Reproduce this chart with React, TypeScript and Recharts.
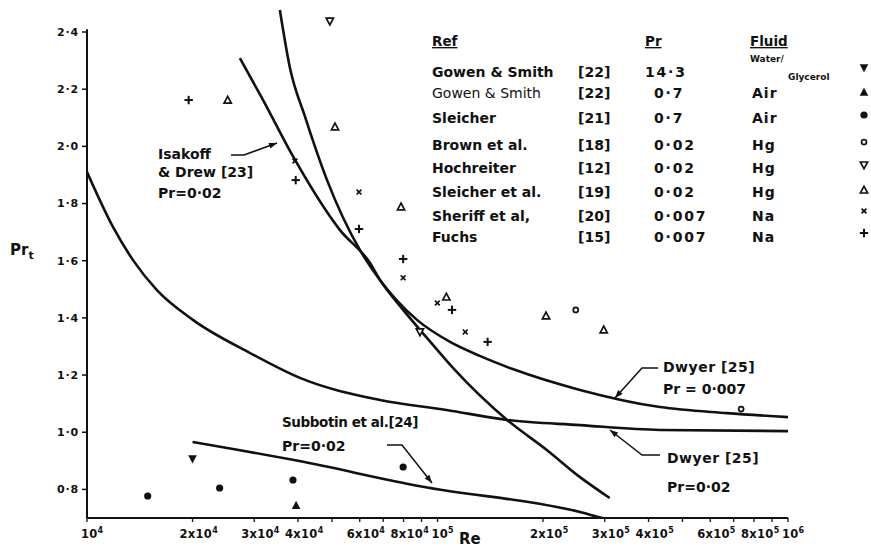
import React from "react";
import { ComposedChart, Line, Scatter, XAxis, YAxis, ReferenceLine } from "recharts";

// correlation curves (Re, Pr_t)
const dwyer002Re = [10000, 11860, 13530, 15830, 20050, 29200, 40500, 68500, 106000, 158000, 255000, 431000, 1000000];
const dwyer002Pr = [1.91, 1.718, 1.602, 1.497, 1.393, 1.277, 1.19, 1.113, 1.078, 1.043, 1.025, 1.008, 1.004];

const dwyer0007Re = [35500, 37900, 41900, 48400, 60100, 68600, 87400, 108600, 132000, 164000, 255000, 431000, 670000, 1000000];
const dwyer0007Pr = [2.477, 2.277, 2.103, 1.882, 1.637, 1.532, 1.393, 1.316, 1.267, 1.221, 1.148, 1.088, 1.067, 1.053];

const isakoffRe = [27300, 31800, 38500, 52700, 64200, 68600, 79800, 93300, 110700, 158000, 205000, 255000, 310000];
const isakoffPr = [2.309, 2.162, 1.97, 1.707, 1.592, 1.532, 1.428, 1.33, 1.225, 1.043, 0.938, 0.843, 0.77];

const subbotinRe = [20000, 40000, 90000, 255000, 296000, 400000];
const subbotinPr = [0.966, 0.9, 0.81, 0.721, 0.7, 0.672];

// experimental points
const gowenWaterRe = [20000];
const gowenWaterPr = [0.906];
const gowenAirRe = [39500];
const gowenAirPr = [0.745];
const sleicherRe = [14900, 23900, 38700, 79800];
const sleicherPr = [0.777, 0.805, 0.833, 0.878];
const brownRe = [248000, 735000];
const brownPr = [1.428, 1.081];
const hochreiterRe = [49300, 89100];
const hochreiterPr = [2.438, 1.351];
const sleicherEtAlRe = [25200, 51000, 78700, 106000, 204000, 298000];
const sleicherEtAlPr = [2.162, 2.068, 1.788, 1.473, 1.407, 1.358];
const sheriffRe = [39200, 59700, 79800, 99900, 120000];
const sheriffPr = [1.949, 1.84, 1.54, 1.452, 1.351];
const fuchsRe = [19500, 39400, 59700, 79800, 110000, 139000];
const fuchsPr = [2.162, 1.882, 1.711, 1.606, 1.428, 1.316];

// legend table
const refNames = ["Gowen & Smith", "Gowen & Smith", "Sleicher", "Brown et al.", "Hochreiter", "Sleicher et al.", "Sheriff et al,", "Fuchs"];
const refNums = ["[22]", "[22]", "[21]", "[18]", "[12]", "[19]", "[20]", "[15]"];
const prandtl = ["14·3", "0·7", "0·7", "0·02", "0·02", "0·02", "0·007", "0·007"];
const fluids = ["Water/Glycerol", "Air", "Air", "Hg", "Hg", "Hg", "Na", "Na"];
const symbols = ["filledDown", "filledUp", "dot", "ring", "openDown", "openUp", "cross", "plus"];

const xTicks = [
  10000, 20000, 30000, 40000, 50000, 60000, 70000, 80000, 90000,
  100000, 200000, 300000, 400000, 500000, 600000, 700000, 800000, 900000, 1000000,
];
const xLabelled = [10000, 20000, 30000, 40000, 60000, 80000, 100000, 200000, 300000, 400000, 600000, 800000, 1000000];
const yTicks = [0.8, 1.0, 1.2, 1.4, 1.6, 1.8, 2.0, 2.2, 2.4];

const INK = "#111";
const FONT = "'DejaVu Sans', sans-serif";

const pairs = (xs: number[], ys: number[]) => xs.map((x, i) => ({ x, y: ys[i] }));

function Sym({ cx, cy, kind }: { cx: number; cy: number; kind: string }) {
  const s = 4.3;
  switch (kind) {
    case "filledDown":
      return <polygon points={`${cx - s},${cy - s + 0.5} ${cx + s},${cy - s + 0.5} ${cx},${cy + s}`} fill={INK} />;
    case "filledUp":
      return <polygon points={`${cx - s},${cy + s - 0.5} ${cx + s},${cy + s - 0.5} ${cx},${cy - s}`} fill={INK} />;
    case "dot":
      return <circle cx={cx} cy={cy} r={3.6} fill={INK} />;
    case "ring":
      return <circle cx={cx} cy={cy} r={2.5} fill="#fff" stroke={INK} strokeWidth={1.7} />;
    case "openDown":
      return <polygon points={`${cx - 3.6},${cy - 3} ${cx + 3.6},${cy - 3} ${cx},${cy + 3.8}`} fill="#fff" stroke={INK} strokeWidth={1.7} />;
    case "openUp":
      return <polygon points={`${cx - 3.6},${cy + 3} ${cx + 3.6},${cy + 3} ${cx},${cy - 3.8}`} fill="#fff" stroke={INK} strokeWidth={1.7} />;
    case "cross":
      return (
        <g stroke={INK} strokeWidth={1.7}>
          <line x1={cx - 2.4} y1={cy - 2.4} x2={cx + 2.4} y2={cy + 2.4} />
          <line x1={cx - 2.4} y1={cy + 2.4} x2={cx + 2.4} y2={cy - 2.4} />
        </g>
      );
    default:
      return (
        <g stroke={INK} strokeWidth={2}>
          <line x1={cx - 4.2} y1={cy} x2={cx + 4.2} y2={cy} />
          <line x1={cx} y1={cy - 4.2} x2={cx} y2={cy + 4.2} />
        </g>
      );
  }
}

function XTick(props: any) {
  const { x, y, payload } = props;
  const v = payload.value;
  if (!xLabelled.includes(v)) return null;
  const exp = Math.floor(Math.log10(v) + 1e-9);
  const m = Math.round(v / Math.pow(10, exp));
  const base = m === 1 ? "10" : `${m}x10`;
  return (
    <text x={m === 1 ? x - 6 : x - 13} y={y + 14} fontSize={11.5} fontWeight="bold" fill={INK} fontFamily={FONT} letterSpacing={0.3}>
      {base}
      <tspan dy={-5} fontSize={8}>{exp}</tspan>
    </text>
  );
}

function Arrow({ pts }: { pts: number[][] }) {
  const [a, b] = [pts[pts.length - 2], pts[pts.length - 1]];
  const ang = Math.atan2(b[1] - a[1], b[0] - a[0]);
  const L = 8, W = 3;
  const bx = b[0] - L * Math.cos(ang), by = b[1] - L * Math.sin(ang);
  const head = [
    [b[0], b[1]],
    [bx + W * Math.sin(ang), by - W * Math.cos(ang)],
    [bx - W * Math.sin(ang), by + W * Math.cos(ang)],
  ];
  return (
    <g>
      <polyline points={pts.map((p) => p.join(",")).join(" ")} fill="none" stroke={INK} strokeWidth={1.5} />
      <polygon points={head.map((p) => p.join(",")).join(" ")} fill={INK} />
    </g>
  );
}

const txt = { fontFamily: FONT, fontWeight: "bold" as const, fill: INK };

function Overlay() {
  const rowY = [77, 98, 123, 150, 173, 197, 221, 242];
  const symY = [68, 92, 115, 142, 165, 190, 211, 233];
  return (
    <svg width={871} height={550} style={{ position: "absolute", left: 0, top: 0, pointerEvents: "none" }}>
      {/* axis titles */}
      <text x={10} y={255} fontSize={15} {...txt}>
        Pr<tspan dy={4} fontSize={11}>t</tspan>
      </text>
      <text x={459} y={544} fontSize={15} {...txt}>Re</text>

      {/* legend table */}
      <text x={432} y={46} fontSize={13.5} {...txt} textDecoration="underline">Ref</text>
      <text x={645} y={46} fontSize={13.5} {...txt} textDecoration="underline">Pr</text>
      <text x={750} y={46} fontSize={13.5} {...txt} textDecoration="underline">Fluid</text>
      {refNames.map((n, i) => (
        <g key={i}>
          <text x={432} y={rowY[i]} fontSize={14} {...txt} fontWeight={i === 1 ? "normal" : "bold"}>{n}</text>
          <text x={578} y={rowY[i]} fontSize={14} {...txt}>{refNums[i]}</text>
          <text x={i === 0 ? 645 : 654} y={rowY[i]} fontSize={14} {...txt} letterSpacing={1.8}>{prandtl[i]}</text>
          {fluids[i].includes("/") ? (
            <g>
              <text x={750} y={62} fontSize={9} {...txt}>{fluids[i].split("/")[0]}/</text>
              <text x={788} y={80} fontSize={9} {...txt}>{fluids[i].split("/")[1]}</text>
            </g>
          ) : (
            <text x={752} y={rowY[i]} fontSize={14} {...txt} letterSpacing={1}>{fluids[i]}</text>
          )}
          <Sym cx={864} cy={symY[i]} kind={symbols[i]} />
        </g>
      ))}

      {/* annotations */}
      <text x={158} y={159} fontSize={14} {...txt}>Isakoff</text>
      <text x={158} y={177} fontSize={14} {...txt}>& Drew [23]</text>
      <text x={158} y={198} fontSize={14} {...txt}>Pr=0·02</text>
      <Arrow pts={[[231, 155], [244, 155], [277, 143]]} />

      <text x={282} y={427} fontSize={13.5} {...txt} letterSpacing={-0.4}>Subbotin et al.[24]</text>
      <text x={282} y={451} fontSize={14} {...txt}>Pr=0·02</text>
      <Arrow pts={[[387, 445], [402, 445], [432, 483]]} />

      <text x={663} y={372} fontSize={14} {...txt} letterSpacing={0.5}>Dwyer [25]</text>
      <text x={663} y={394} fontSize={14} {...txt}>Pr = 0·007</text>
      <Arrow pts={[[658, 368], [642, 368], [615, 398]]} />

      <text x={667} y={463} fontSize={14} {...txt} letterSpacing={0.5}>Dwyer  [25]</text>
      <text x={667} y={492} fontSize={14} {...txt}>Pr=0·02</text>
      <Arrow pts={[[660, 455], [642, 455], [610, 430]]} />
    </svg>
  );
}

const curve = { type: "monotone" as const, dataKey: "y", stroke: INK, strokeWidth: 2.6, dot: false, activeDot: false, isAnimationActive: false };

export default function App() {
  const series: [number[], number[], string][] = [
    [gowenWaterRe, gowenWaterPr, "filledDown"],
    [gowenAirRe, gowenAirPr, "filledUp"],
    [sleicherRe, sleicherPr, "dot"],
    [brownRe, brownPr, "ring"],
    [hochreiterRe, hochreiterPr, "openDown"],
    [sleicherEtAlRe, sleicherEtAlPr, "openUp"],
    [sheriffRe, sheriffPr, "cross"],
    [fuchsRe, fuchsPr, "plus"],
  ];
  return (
    <div style={{ position: "absolute", left: 0, top: 0, width: 871, height: 550, background: "#fff", fontFamily: FONT }}>
      <ComposedChart width={871} height={550} margin={{ top: 8, right: 83, bottom: 0, left: 0 }}>
        <XAxis
          dataKey="x"
          type="number"
          scale="log"
          domain={[10000, 1000000]}
          allowDataOverflow
          ticks={xTicks}
          tick={<XTick />}
          tickSize={4}
          tickMargin={2}
          height={32}
          axisLine={{ stroke: INK, strokeWidth: 2 }}
          tickLine={{ stroke: INK, strokeWidth: 1.3 }}
          interval={0}
        />
        <YAxis
          dataKey="y"
          type="number"
          domain={[0.7, 2.484]}
          allowDataOverflow
          ticks={yTicks}
          width={87}
          tickSize={5}
          tickMargin={3}
          axisLine={false}
          tickLine={{ stroke: INK, strokeWidth: 1.5 }}
          tickFormatter={(v: number) => v.toFixed(1).replace(".", "·")}
          tick={{ fill: INK, fontSize: 11, fontWeight: "bold", fontFamily: FONT, letterSpacing: 0.8 }}
          interval={0}
        />
        <ReferenceLine segment={[{ x: 10000, y: 0.7 }, { x: 10000, y: 2.41 }]} stroke={INK} strokeWidth={2} />
        <Line data={pairs(dwyer002Re, dwyer002Pr)} {...curve} />
        <Line data={pairs(dwyer0007Re, dwyer0007Pr)} {...curve} />
        <Line data={pairs(isakoffRe, isakoffPr)} {...curve} />
        <Line data={pairs(subbotinRe, subbotinPr)} {...curve} />
        {series.map(([xs, ys, kind], i) => (
          <Scatter
            key={i}
            data={pairs(xs, ys)}
            isAnimationActive={false}
            shape={(p: any) => <Sym cx={p.cx} cy={p.cy} kind={kind} />}
          />
        ))}
      </ComposedChart>
      <Overlay />
    </div>
  );
}
